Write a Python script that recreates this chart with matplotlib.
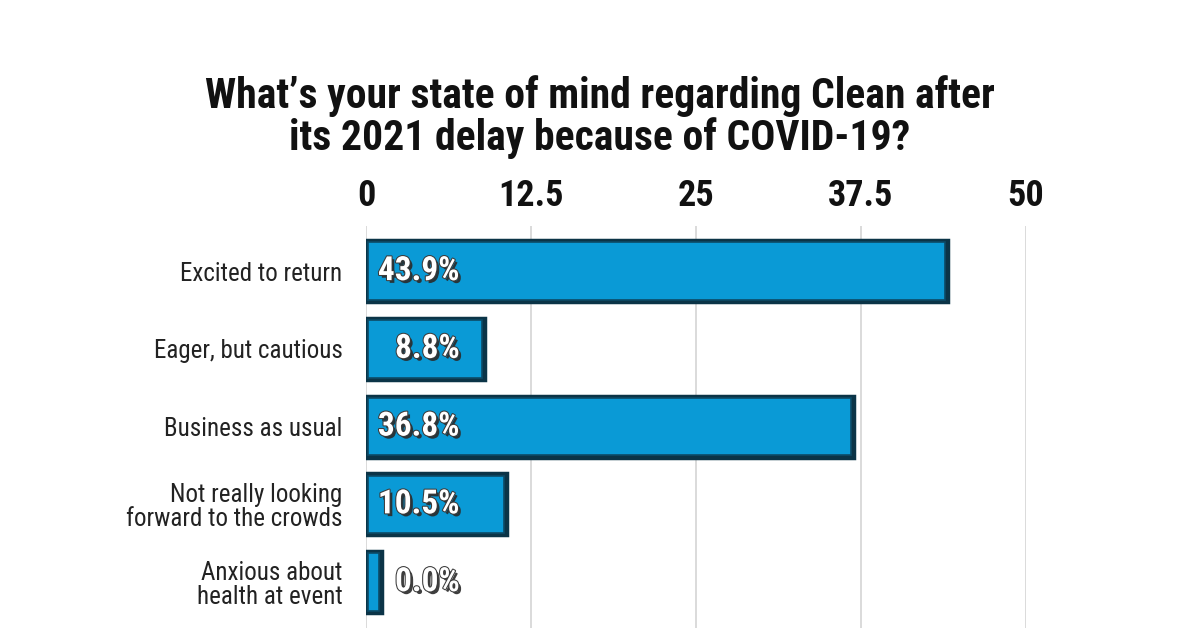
import matplotlib
matplotlib.use("Agg")
import matplotlib.pyplot as plt
import matplotlib.patheffects as pe

categories = ["Excited to return", "Eager, but cautious", "Business as usual",
              "Not really looking\nforward to the crowds", "Anxious about\nhealth at event"]
values = [43.9, 8.8, 36.8, 10.5, 0.0]
value_labels = ["43.9%", "8.8%", "36.8%", "10.5%", "0.0%"]
ticks = [0, 12.5, 25, 37.5, 50]
tick_labels = ["0", "12.5", "25", "37.5", "50"]
title = "What\u2019s your state of mind regarding Clean after\nits 2021 delay because of COVID-19?"

FONT = "Roboto Condensed"

fig = plt.figure(figsize=(12, 6.28), dpi=100)
fig.patch.set_facecolor("white")
ax = fig.add_axes([366/1200, 0.0, 660/1200, 1 - 226/628])

ypos = list(range(len(categories)))
# darker rim behind the bars for a slight 3D look
ax.barh(ypos, [max(v, 1.0) + 0.2 for v in values], height=0.8, left=0.0,
        color="#0b3447", edgecolor="#0b3447", linewidth=2.5, zorder=2)
ax.barh(ypos, [max(v, 1.0) - 0.2 for v in values], height=0.74, left=0.15,
        color="#0a9ad6", edgecolor="#0d4a66", linewidth=1.2, zorder=3)

ax.set_xlim(0, 50)
ax.set_ylim(len(categories) - 1 + 0.59, -0.58)
ax.set_xticks(ticks)
ax.set_xticklabels(tick_labels, fontsize=26, fontweight="bold", family=FONT, color="#111111")
ax.xaxis.tick_top()
ax.tick_params(axis="x", length=0, pad=9)
ax.set_yticks(ypos)
ax.set_yticklabels(categories, fontsize=18, family=FONT, color="#222222",
                   linespacing=1.0)
ax.tick_params(axis="y", length=0, pad=17)
ax.grid(axis="x", color="#d4d4d4", linewidth=1.2, zorder=0)
for s in ax.spines.values():
    s.set_visible(False)

effects = [pe.withSimplePatchShadow(offset=(2, -2), shadow_rgbFace="#2a2a2a", alpha=0.9),
           pe.Stroke(linewidth=1.5, foreground="#3a3a3a"), pe.Normal()]
for y, v, lab in zip(ypos, values, value_labels):
    x = 0.9 if v > 0 else 2.2
    if lab == "8.8%":
        x = 2.2
    ax.text(x, y, lab, va="center", ha="left", fontsize=24, fontweight="bold",
            family=FONT, color="white", path_effects=effects, zorder=5)

fig.text(0.5, 0.813, title, ha="center", va="center", fontsize=30, fontweight="bold",
         family=FONT, color="#111111", linespacing=1.0)

fig.savefig("out.png", dpi=100, facecolor="white")
